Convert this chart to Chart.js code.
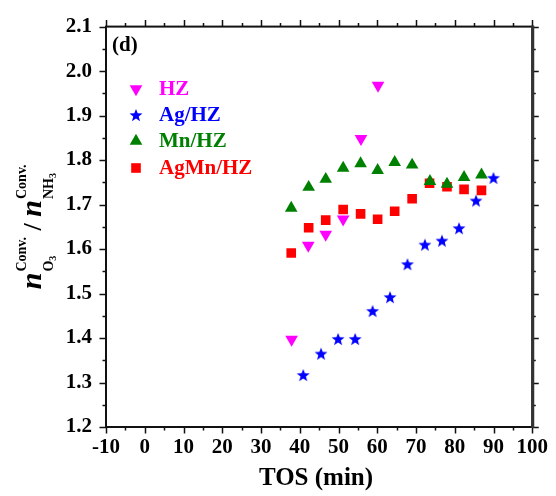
<!DOCTYPE html>
<html>
<head>
<meta charset="utf-8">
<title>O3 / NH3 conversion ratio vs TOS</title>
<script src="https://cdn.jsdelivr.net/npm/chart.js@4.4.1/dist/chart.umd.min.js"></script>
<style>
    html, body { margin: 0; padding: 0; background: #fff; }
    #js-ratio-chart { display: block; }
</style>
</head>
<body>
<canvas id="js-ratio-chart" width="556" height="496"></canvas>
<script>
// time on stream (min) and conversion ratio for each catalyst
var hzTime = [37.9, 42.2, 46.7, 51.2, 55.8, 60.2];
var hzRatio = [1.397, 1.608, 1.633, 1.667, 1.848, 1.968];

var agTime = [40.9, 45.5, 49.9, 54.3, 58.8, 63.3, 67.8, 72.3, 76.7, 81.1, 85.5, 90.0];
var agRatio = [1.317, 1.365, 1.398, 1.398, 1.461, 1.492, 1.566, 1.610, 1.619, 1.647, 1.709, 1.760];

var mnTime = [37.8, 42.3, 46.7, 51.2, 55.7, 60.1, 64.5, 69.0, 73.6, 78.0, 82.4, 86.9];
var mnRatio = [1.692, 1.739, 1.757, 1.782, 1.792, 1.777, 1.795, 1.789, 1.752, 1.746, 1.761, 1.767];

var agmnTime = [37.8, 42.3, 46.7, 51.2, 55.7, 60.1, 64.5, 69.0, 73.5, 78.0, 82.4, 86.9];
var agmnRatio = [1.591, 1.648, 1.665, 1.689, 1.679, 1.667, 1.685, 1.713, 1.748, 1.740, 1.734, 1.732];

var seriesNames = ["HZ", "Ag/HZ", "Mn/HZ", "AgMn/HZ"];
var seriesColors = ["#ff00ff", "#0000ff", "#008000", "#ff0000"];

var xTicks = [-10, 0, 10, 20, 30, 40, 50, 60, 70, 80, 90, 100];
var yTicks = [1.2, 1.3, 1.4, 1.5, 1.6, 1.7, 1.8, 1.9, 2.0, 2.1];

var SERIF = "'Liberation Serif', 'Times New Roman', serif";

function toPoints(xs, ys) {
    return xs.map(function (x, i) { return { x: x, y: ys[i] }; });
}

// filled five-point star used as a point style
function makeStar(color, outer) {
    var inner = outer * 0.42;
    var size = Math.ceil(outer * 2 + 2);
    var c = document.createElement("canvas");
    c.width = size;
    c.height = size;
    var g = c.getContext("2d");
    g.fillStyle = color;
    g.beginPath();
    for (var i = 0; i < 10; i++) {
        var r = i % 2 === 0 ? outer : inner;
        var a = -Math.PI / 2 + i * Math.PI / 5;
        var px = size / 2 + r * Math.cos(a);
        var py = size / 2 + outer * 0.1 + r * Math.sin(a);
        if (i === 0) g.moveTo(px, py); else g.lineTo(px, py);
    }
    g.closePath();
    g.fill();
    return c;
}

var starImg = makeStar(seriesColors[1], 6.8);

var datasets = [
    { label: seriesNames[0], data: toPoints(hzTime, hzRatio), pointStyle: "triangle", rotation: 180, pointRadius: 7.3 },
    { label: seriesNames[1], data: toPoints(agTime, agRatio), pointStyle: starImg, rotation: 0, pointRadius: 7 },
    { label: seriesNames[2], data: toPoints(mnTime, mnRatio), pointStyle: "triangle", rotation: 0, pointRadius: 7.3 },
    { label: seriesNames[3], data: toPoints(agmnTime, agmnRatio), pointStyle: "rect", rotation: 0, pointRadius: 6.8 }
].map(function (ds, i) {
    ds.showLine = false;
    ds.backgroundColor = seriesColors[i];
    ds.borderColor = seriesColors[i];
    ds.borderWidth = 0;
    ds.pointBackgroundColor = seriesColors[i];
    ds.pointBorderWidth = 0;
    ds.pointRotation = ds.rotation;
    return ds;
});

// frame, inward/outward ticks, legend, panel tag and axis titles
var decorations = {
    id: "decorations",
    afterDatasetsDraw: function (chart) {
        var ctx = chart.ctx;
        var a = chart.chartArea;
        var xs = chart.scales.x;
        var ys = chart.scales.y;
        ctx.save();

        ctx.strokeStyle = "#111";
        ctx.lineWidth = 1.5;
        var v, p, len;
        for (v = -10; v <= 100.001; v += 5) {
            p = Math.round(xs.getPixelForValue(v)) + 0.5;
            len = (Math.round(v) % 10 === 0) ? 6.5 : 3.5;
            ctx.beginPath();
            ctx.moveTo(p, a.bottom); ctx.lineTo(p, a.bottom + len);
            ctx.moveTo(p, a.top); ctx.lineTo(p, a.top - len);
            ctx.stroke();
        }
        for (var k = 0; k <= 18; k++) {
            v = 1.2 + k * 0.05;
            p = Math.round(ys.getPixelForValue(v)) + 0.5;
            len = (k % 2 === 0) ? 6.5 : 3.5;
            ctx.beginPath();
            ctx.moveTo(a.left, p); ctx.lineTo(a.left - len, p);
            ctx.moveTo(a.right, p); ctx.lineTo(a.right + len, p);
            ctx.stroke();
        }

        ctx.lineWidth = 2;
        ctx.strokeStyle = "#111";
        ctx.strokeRect(a.left, a.top, a.right - a.left, a.bottom - a.top);
        ctx.lineWidth = 3;
        ctx.strokeStyle = "#333";
        ctx.beginPath();
        ctx.moveTo(a.right + 0.5, a.top - 1);
        ctx.lineTo(a.right + 0.5, a.bottom + 1);
        ctx.stroke();

        // panel tag
        ctx.fillStyle = "#000";
        ctx.font = "bold 21px " + SERIF;
        ctx.textAlign = "left";
        ctx.textBaseline = "middle";
        ctx.fillText("(d)", 112, 46);

        // legend
        var rowY = [89, 115, 141, 168];
        chart.data.datasets.forEach(function (ds, i) {
            ctx.fillStyle = seriesColors[i];
            ctx.strokeStyle = seriesColors[i];
            Chart.helpers.drawPoint(ctx, {
                pointStyle: ds.pointStyle,
                rotation: ds.rotation,
                radius: ds.pointRadius,
                borderWidth: 0
            }, 136, rowY[i]);
            ctx.fillStyle = seriesColors[i];
            ctx.font = "bold 21px " + SERIF;
            ctx.textAlign = "left";
            ctx.textBaseline = "middle";
            ctx.fillText(ds.label, 159, rowY[i] + 1);
        });

        // x title
        ctx.fillStyle = "#000";
        ctx.font = "bold 25px " + SERIF;
        ctx.textAlign = "center";
        ctx.textBaseline = "middle";
        ctx.fillText("TOS (min)", 316, 479);

        // y title: n_O3^Conv. / n_NH3^Conv.
        var big = "italic bold 30px " + SERIF;
        var small = "bold 14px " + SERIF;
        var tiny = "bold 10px " + SERIF;
        var slash = "bold 26px " + SERIF;
        function w(font, s) { ctx.font = font; return ctx.measureText(s).width; }
        function group(sub) {
            var supW = w(small, "Conv.");
            var subW = w(small, sub) + w(tiny, "3");
            return Math.max(supW, subW);
        }
        var total = w(big, "n") + 1 + group("O") + w(slash, " / ") + w(big, "n") + 1 + group("NH");
        var cy = (a.top + a.bottom) / 2;
        ctx.translate(41, cy);
        ctx.rotate(-Math.PI / 2);
        ctx.textAlign = "left";
        ctx.textBaseline = "alphabetic";
        var x = -total / 2;
        function drawGroup(sub) {
            ctx.font = small;
            ctx.fillText("Conv.", x, -15);
            ctx.fillText(sub, x, 12);
            var sw = w(small, sub);
            ctx.font = tiny;
            ctx.fillText("3", x + sw, 15);
            x += group(sub);
        }
        ctx.font = big;
        ctx.fillText("n", x, 0);
        x += w(big, "n") + 1;
        drawGroup("O");
        ctx.font = slash;
        ctx.fillText(" / ", x, 0);
        x += w(slash, " / ");
        ctx.font = big;
        ctx.fillText("n", x, 0);
        x += w(big, "n") + 1;
        drawGroup("NH");

        ctx.restore();
    }
};

var chart = new Chart(document.getElementById("js-ratio-chart"), {
    type: "scatter",
    data: { datasets: datasets },
    options: {
        responsive: false,
        devicePixelRatio: 1,
        animation: false,
        events: [],
        layout: { padding: { left: 0, right: 19, top: 24, bottom: 0 } },
        plugins: {
            legend: { display: false },
            tooltip: { enabled: false }
        },
        scales: {
            x: {
                type: "linear",
                min: -10,
                max: 100,
                afterFit: function (scale) { scale.height = 69; },
                afterBuildTicks: function (scale) {
                    scale.ticks = xTicks.map(function (v) { return { value: v }; });
                },
                grid: { display: false, drawTicks: false },
                border: { display: false },
                ticks: {
                    padding: 8,
                    maxRotation: 0,
                    color: "#000",
                    font: { family: SERIF, size: 21, weight: "bold" },
                    callback: function (v) { return String(v); }
                }
            },
            y: {
                type: "linear",
                min: 1.2,
                max: 2.1,
                afterFit: function (scale) { scale.width = 106; },
                afterBuildTicks: function (scale) {
                    scale.ticks = yTicks.map(function (v) { return { value: v }; });
                },
                grid: { display: false, drawTicks: false },
                border: { display: false },
                ticks: {
                    padding: 14,
                    color: "#000",
                    font: { family: SERIF, size: 21, weight: "bold" },
                    callback: function (v) { return Number(v).toFixed(1); }
                }
            }
        }
    },
    plugins: [decorations]
});
</script>
</body>
</html>
